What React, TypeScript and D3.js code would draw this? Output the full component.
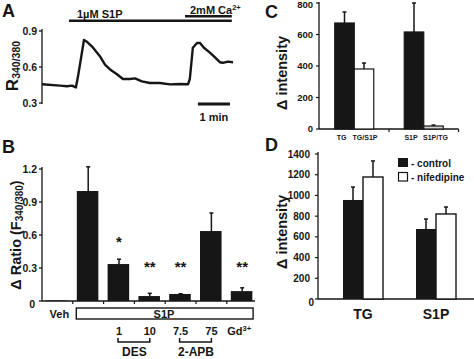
import React from 'react';
import * as d3 from 'd3';

// Panel A: fura-2 trace (time in min, ratio)
const traceTime = [0, 0.6, 0.83, 1.0, 1.13, 1.2, 1.4, 1.5, 1.67, 1.83, 1.93, 2.1, 2.27, 2.5, 2.7, 2.93, 3.1, 3.33, 3.6, 3.93, 4.27, 4.6, 4.87, 4.93, 5.03, 5.17, 5.27, 5.4, 5.6, 5.77, 5.93, 6.03, 6.2, 6.37];
const traceRatio = [0.456, 0.445, 0.44, 0.445, 0.43, 0.52, 0.825, 0.81, 0.77, 0.72, 0.69, 0.62, 0.58, 0.54, 0.5, 0.5, 0.505, 0.48, 0.467, 0.467, 0.455, 0.458, 0.456, 0.5, 0.76, 0.8, 0.8, 0.76, 0.72, 0.68, 0.64, 0.635, 0.645, 0.64];
const aTicks = [0.3, 0.6, 0.9];

// Panel B
const bCats = ['Veh', 'S1P', '1', '10', '7.5', '75', 'Gd'];
const bValues = [0.005, 1.0, 0.336, 0.045, 0.064, 0.636, 0.09];
const bErrors = [0.005, 1.22, 0.38, 0.07, 0.066, 0.8, 0.12];
const bStars = ['', '', '*', '**', '**', '', '**'];
const bStarAt = [0, 0, 0.57, 0.345, 0.345, 0, 0.345];
const bTicks = [0, 0.3, 0.6, 0.9, 1.2];

// Panel C
const cGroups = ['TG', 'S1P'];
const cCats = ['TG', 'TG/S1P', 'S1P', 'S1P/TG'];
const cValues = [673, 381, 616, 19];
const cErrors = [743, 419, 800, 25];
const cFills = ['#161616', '#ffffff', '#161616', '#d0d0d0'];
const cTicks = [0, 200, 400, 600, 800];

// Panel D
const dGroups = ['TG', 'S1P'];
const dControl = [956, 676];
const dControlErr = [1081, 772];
const dNif = [1178, 821];
const dNifErr = [1333, 888];
const dTicks = [0, 200, 400, 600, 800, 1000, 1200, 1400];

const ink = '#161616';
const font = 'Liberation Sans, Arial, sans-serif';

const ErrBar = ({ x, y0, y1 }: { x: number; y0: number; y1: number }) => (
  <g stroke={ink} strokeWidth={1.5}>
    <line x1={x} x2={x} y1={y0} y2={y1} />
    <line x1={x - 2} x2={x + 2} y1={y1} y2={y1} />
  </g>
);

const App = () => {
  // ---- A ----
  const xA = d3.scaleLinear().domain([0, 6.37]).range([42, 233]);
  const yA = d3.scaleLinear().domain([0.3, 0.9]).range([103, 31]);
  const line = d3.line<number>()
    .x((_, i) => xA(traceTime[i]))
    .y(d => yA(d));

  // ---- B ----
  const xB = d3.scaleBand<string>().domain(bCats).range([42, 257.6]);
  const yB = d3.scaleLinear().domain([0, 1.2]).range([301, 169]);
  const stepB = xB.step();
  const bw = stepB * 0.7;
  const cB = (c: string) => (xB(c) as number) + stepB / 2;

  // ---- C ----
  const xC = d3.scaleBand<string>().domain(cGroups).range([319.5, 458.5]);
  const yC = d3.scaleLinear().domain([0, 800]).range([129, 3]);
  const cw = 19.5;
  const cX = (i: number) => (xC(cGroups[Math.floor(i / 2)]) as number) + xC.bandwidth() / 2 + (i % 2 === 0 ? -cw : 0);
  const cLabelShift = [-3, 1, -3, 2];

  // ---- D ----
  const xD = d3.scaleBand<string>().domain(dGroups).range([326.5, 472.5]);
  const yD = d3.scaleLinear().domain([0, 1400]).range([299, 154]);
  const dw = 20;

  return (
    <svg width={474} height={359} style={{ position: 'absolute', left: 0, top: 0, background: '#fff' }}
      fontFamily={font} fontWeight="bold" fill={ink}>
      {/* panel letters */}
      <g fontSize={18}>
        <text x={2} y={17}>A</text>
        <text x={2} y={153}>B</text>
        <text x={265} y={18}>C</text>
        <text x={265} y={151}>D</text>
      </g>

      {/* ===== A ===== */}
      <line x1={42} x2={42} y1={29} y2={104} stroke={ink} strokeWidth={1.3} />
      {aTicks.map(t => (
        <g key={t}>
          <line x1={39} x2={42} y1={yA(t)} y2={yA(t)} stroke={ink} strokeWidth={1.3} />
          <text x={37} y={yA(t)} dy="0.35em" textAnchor="end" fontSize={10.5}>{t.toFixed(1)}</text>
        </g>
      ))}
      <text transform="translate(18,66) rotate(-90)" textAnchor="middle" fontSize={17}>
        R<tspan fontSize={10.5} dy={2}>340/380</tspan>
      </text>
      <path d={line(traceRatio) || ''} fill="none" stroke={ink} strokeWidth={2.4} strokeLinejoin="round" />
      <line x1={xA(0.9)} x2={xA(6.33)} y1={20.7} y2={20.7} stroke={ink} strokeWidth={2.6} />
      <line x1={xA(4.77)} x2={xA(6.33)} y1={16.2} y2={16.2} stroke={ink} strokeWidth={2.6} />
      <text x={77} y={17.5} fontSize={11}>1µM S1P</text>
      <text x={190} y={13.5} fontSize={11}>2mM Ca<tspan fontSize={7.5} dy={-4}>2+</tspan></text>
      <line x1={xA(5.2)} x2={xA(6.27)} y1={104} y2={104} stroke={ink} strokeWidth={2.8} />
      <text x={(xA(5.2) + xA(6.27)) / 2} y={121} textAnchor="middle" fontSize={11}>1 min</text>

      {/* ===== B ===== */}
      <line x1={42} x2={42} y1={167} y2={301} stroke={ink} strokeWidth={1.3} />
      <line x1={42} x2={255} y1={301} y2={301} stroke={ink} strokeWidth={1.3} />
      {bTicks.map(t => (
        <g key={t}>
          <line x1={39} x2={42} y1={yB(t)} y2={yB(t)} stroke={ink} strokeWidth={1.3} />
          <text x={t === 0 ? 35 : 37} y={yB(t) + (t === 0 ? 3 : 0)} dy="0.35em" textAnchor="end" fontSize={10.5}>
            {t === 0 ? '0' : t.toFixed(1)}
          </text>
        </g>
      ))}
      {bCats.slice(1).map(c => (
        <line key={c} x1={xB(c)} x2={xB(c)} y1={301} y2={304} stroke={ink} strokeWidth={1.2} />
      ))}
      {bCats.map((c, i) => (
        <g key={c}>
          <rect x={(xB(c) as number) + stepB * 0.13} y={yB(bValues[i])} width={bw}
            height={yB(0) - yB(bValues[i])} fill={ink} />
          {i > 0 && <ErrBar x={cB(c)} y0={yB(bValues[i])} y1={yB(bErrors[i])} />}
          {bStars[i] && (
            <text x={cB(c)} y={yB(bStarAt[i]) + 8.5} textAnchor="middle" fontSize={15}>{bStars[i]}</text>
          )}
        </g>
      ))}
      <text transform="translate(21,235) rotate(-90)" textAnchor="middle" fontSize={14.5}>
        Δ Ratio (F<tspan fontSize={10} dy={1.5}>340/380</tspan><tspan dy={-1.5}>)</tspan>
      </text>
      <rect x={(xB('S1P') as number) + 3.5} y={308} width={257.6 - 4.5 - ((xB('S1P') as number) + 3.5)} height={11}
        fill="#fff" stroke={ink} strokeWidth={1.4} />
      <text x={164} y={317.5} textAnchor="middle" fontSize={11}>S1P</text>
      <text x={cB('Veh') + 2} y={317.5} textAnchor="middle" fontSize={11}>Veh</text>
      {['1', '10', '7.5', '75'].map(c => (
        <text key={c} x={cB(c)} y={335} textAnchor="middle" fontSize={11}>{c}</text>
      ))}
      <text x={cB('Gd') - 3} y={335} textAnchor="middle" fontSize={11}>Gd<tspan fontSize={7.5} dy={-4}>3+</tspan></text>
      {[['1', '10', 'DES'], ['7.5', '75', '2-APB']].map(([a, b, lab]) => (
        <g key={lab}>
          <path d={`M${cB(a) - 1},338V342H${cB(b)}V338`} fill="none" stroke={ink} strokeWidth={1.5} />
          <text x={(cB(a) + cB(b)) / 2} y={356} textAnchor="middle" fontSize={12}>{lab}</text>
        </g>
      ))}

      {/* ===== C ===== */}
      <line x1={319} x2={319} y1={2} y2={129} stroke={ink} strokeWidth={1.3} />
      <line x1={319} x2={458.5} y1={129} y2={129} stroke={ink} strokeWidth={1.3} />
      {cTicks.map(t => (
        <g key={t}>
          <line x1={316} x2={319} y1={yC(t)} y2={yC(t)} stroke={ink} strokeWidth={1.2} />
          <text x={313} y={yC(t) + (t === 800 ? 1.5 : 0)} dy="0.35em" textAnchor="end" fontSize={9.5}>{t}</text>
        </g>
      ))}
      {cGroups.map(g => (
        <line key={g} x1={(xC(g) as number) + xC.bandwidth()} x2={(xC(g) as number) + xC.bandwidth()}
          y1={129} y2={132} stroke={ink} strokeWidth={1.2} />
      ))}
      {cCats.map((c, i) => (
        <g key={c}>
          <rect x={cX(i)} y={yC(cValues[i])} width={cw} height={yC(0) - yC(cValues[i])}
            fill={cFills[i]} stroke={ink} strokeWidth={1.2} />
          <ErrBar x={cX(i) + cw / 2} y0={yC(cValues[i])} y1={yC(cErrors[i])} />
          <text x={cX(i) + cw / 2 + cLabelShift[i]} y={140} textAnchor="middle" fontSize={7}>{c}</text>
        </g>
      ))}
      <text transform="translate(287,73) rotate(-90)" textAnchor="middle" fontSize={14.5}>Δ intensity</text>

      {/* ===== D ===== */}
      <line x1={318} x2={318} y1={152} y2={299} stroke={ink} strokeWidth={1.3} />
      <line x1={318} x2={474} y1={299} y2={299} stroke={ink} strokeWidth={1.3} />
      {dTicks.map(t => (
        <g key={t}>
          <line x1={315} x2={318} y1={yD(t)} y2={yD(t)} stroke={ink} strokeWidth={1.2} />
          <text x={t === 0 ? 314 : 310} y={yD(t) + (t === 0 ? 3 : 0)} dy="0.35em" textAnchor="end" fontSize={10}>{t}</text>
        </g>
      ))}
      {dGroups.map((g, i) => {
        const cx = (xD(g) as number) + xD.bandwidth() / 2;
        return (
          <g key={g}>
            <rect x={cx - dw} y={yD(dControl[i])} width={dw} height={yD(0) - yD(dControl[i])} fill={ink} />
            <ErrBar x={cx - dw / 2} y0={yD(dControl[i])} y1={yD(dControlErr[i])} />
            <rect x={cx} y={yD(dNif[i])} width={dw} height={yD(0) - yD(dNif[i])}
              fill="#fff" stroke={ink} strokeWidth={1.4} />
            <ErrBar x={cx + dw / 2} y0={yD(dNif[i])} y1={yD(dNifErr[i])} />
            <text x={cx} y={319} textAnchor="middle" fontSize={14}>{g}</text>
          </g>
        );
      })}
      <text transform="translate(287,232) rotate(-90)" textAnchor="middle" fontSize={14.5}>Δ intensity</text>
      <rect x={398} y={158} width={10} height={9} fill={ink} />
      <rect x={398.5} y={172.5} width={9} height={8.5} fill="#fff" stroke={ink} strokeWidth={1.2} />
      <text x={411} y={166.5} fontSize={10}>- control</text>
      <text x={411} y={180.5} fontSize={10}>- nifedipine</text>
    </svg>
  );
};

export default App;
